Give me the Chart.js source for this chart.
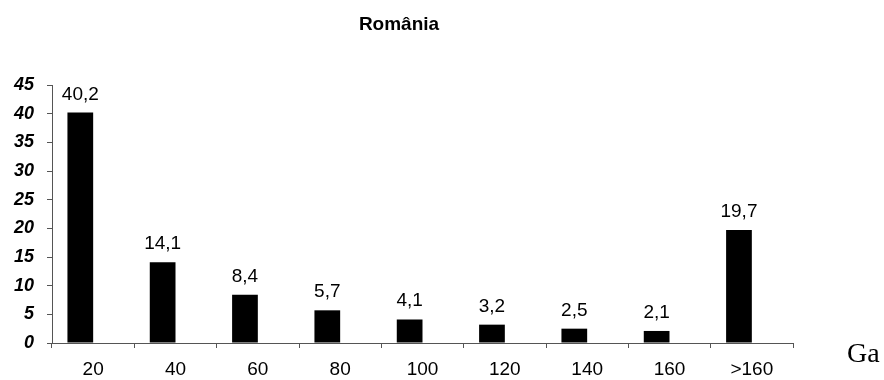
<!DOCTYPE html>
<html>
<head>
<meta charset="utf-8">
<script src="https://cdn.jsdelivr.net/npm/chart.js@4/dist/chart.umd.min.js"></script>
<style>
  body { margin: 0; background: #fff; }
  #wrap { width: 884px; height: 380px; }
</style>
</head>
<body>
<div id="wrap"><canvas id="chart"></canvas></div>
<script>
// Data
const categories = ['20', '40', '60', '80', '100', '120', '140', '160', '>160']
const shares = [40.2, 14.1, 8.4, 5.7, 4.1, 3.2, 2.5, 2.1, 19.7]
// the original has an empty second series, which pushes the bars left of centre
const emptySeries = [null, null, null, null, null, null, null, null, null]
const yTicks = [0, 5, 10, 15, 20, 25, 30, 35, 40, 45]
const chartTitle = 'România'
const unitLabel = 'Ga'

// values above bars, title and the "Ga" unit
const extrasPlugin = {
    id: 'extras',
    afterDatasetsDraw: function(chart) {
        const ctx = chart.ctx
        const meta = chart.getDatasetMeta(0)
        ctx.save()
        ctx.fillStyle = '#000'
        ctx.font = '19px "Liberation Sans", Arial, sans-serif'
        ctx.textAlign = 'center'
        ctx.textBaseline = 'alphabetic'
        meta.data.forEach(function(bar, i) {
            ctx.fillText(String(shares[i]).replace('.', ','), bar.x, bar.y - 13)
        })

        ctx.font = 'bold 19px "Liberation Sans", Arial, sans-serif'
        ctx.fillText(chartTitle, 399, 30)

        ctx.font = '28px "Liberation Serif", "Times New Roman", serif'
        ctx.textAlign = 'left'
        ctx.fillText(unitLabel, 847, 362)
        ctx.restore()
    }
}

const chartConfig = {
    type: 'bar',
    data: {
        labels: categories,
        datasets: [{
            data: shares,
            backgroundColor: '#000',
            borderWidth: 0,
            categoryPercentage: 0.625,
            barPercentage: 1.0,
        }, {
            data: emptySeries,
            backgroundColor: '#fff',
            borderWidth: 0,
            categoryPercentage: 0.625,
            barPercentage: 1.0,
        }],
    },
    options: {
        responsive: false,
        animation: false,
        layout: { padding: { top: 85, right: 91, bottom: 0, left: 0 } },
        plugins: {
            legend: { display: false },
            title: { display: false },
            tooltip: { enabled: false },
        },
        scales: {
            x: {
                grid: { display: true, drawOnChartArea: false, drawTicks: true, tickLength: 5, color: '#555', offset: true },
                border: { display: true, color: '#555', width: 1 },
                ticks: { color: '#000', padding: 10, maxRotation: 0, font: { family: '"Liberation Sans", Arial, sans-serif', size: 19 } },
                afterFit: function(scale) { scale.height = 37 },
            },
            y: {
                min: 0,
                max: 45,
                afterBuildTicks: function(scale) { scale.ticks = yTicks.map(v => ({ value: v })) },
                grid: { display: true, drawOnChartArea: false, drawTicks: true, tickLength: 5, color: '#555' },
                border: { display: true, color: '#555', width: 1 },
                ticks: { color: '#000', padding: 13, font: { family: '"Liberation Sans", Arial, sans-serif', size: 18, weight: 'bold', style: 'italic' } },
                afterFit: function(scale) { scale.width = 52 },
            },
        },
    },
    plugins: [extrasPlugin],
}

const canvas = document.getElementById('chart')
canvas.width = 884
canvas.height = 380
new Chart(canvas, chartConfig)
</script>
</body>
</html>
